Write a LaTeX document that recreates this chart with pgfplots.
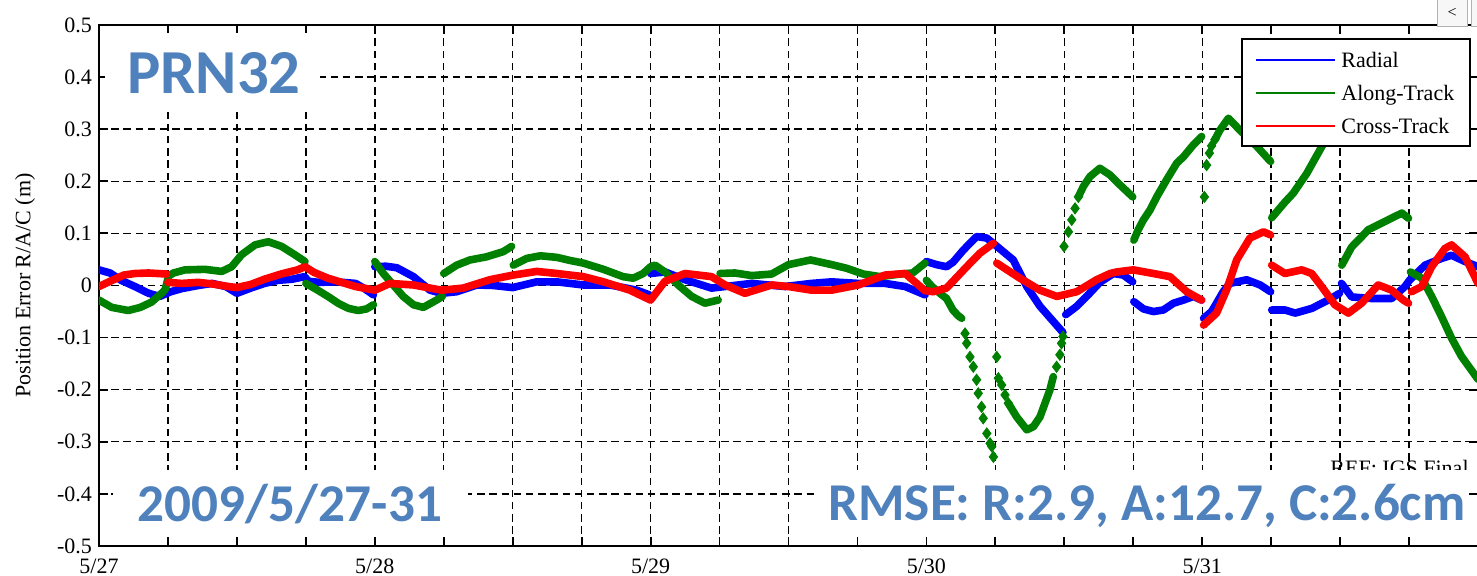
\documentclass[border=0pt]{standalone}
\usepackage{fontspec}
\setmainfont{Liberation Serif}
\newfontfamily\calib{Carlito}
\usepackage{pgfplots}
\pgfplotsset{compat=1.18}
\definecolor{ovl}{RGB}{79,129,189}
\definecolor{mgreen}{RGB}{0,128,0}
\begin{document}
\begin{tikzpicture}
\begin{axis}[
  name=ax, at={(0,0)}, anchor=south west,
  scale only axis, width=689.5pt, height=260.5pt,
  xmin=0, xmax=5, ymin=-0.5, ymax=0.5,
  xtick={0,0.25,0.5,0.75,1,1.25,1.5,1.75,2,2.25,2.5,2.75,3,3.25,3.5,3.75,4,4.25,4.5,4.75,5},
  xticklabels={5/27,,,,5/28,,,,5/29,,,,5/30,,,,5/31,,,,},
  ytick={-0.5,-0.4,-0.3,-0.2,-0.1,0,0.1,0.2,0.3,0.4,0.5},
  /pgf/number format/assume math mode=true,
  yticklabel style={/pgf/number format/fixed, /pgf/number format/precision=1},
  xticklabel style={yshift=-3pt},
  tick label style={font=\fontsize{11}{13}\selectfont},
  grid=major,
  major grid style={black, line width=0.7pt, dash pattern=on 3.7pt off 2.4pt},
  axis line style={line width=1pt},
  major tick length=4.5pt,
  every tick/.style={black, line width=0.9pt},
  tick align=inside,
  unbounded coords=jump,
]
% Radial
\addplot[blue, line width=3.8pt, line join=round, line cap=round] coordinates {
(0,0.030)(0.04,0.024)(0.08,0.010)(0.13,-0.002)(0.18,-0.015)(0.22,-0.021)(0.26,-0.012)(0.30,-0.006)(0.36,0.000)(0.41,0.004)(0.46,-0.002)(0.50,-0.015)(0.55,-0.005)(0.60,0.004)(0.65,0.010)(0.70,0.012)(0.745,0.017)(0.76,0.008)(0.80,0.006)(0.86,0.007)(0.93,0.004)(0.96,-0.005)(0.995,-0.018)
(0.997,nan)
(1.0,0.036)(1.04,0.037)(1.08,0.034)(1.14,0.017)(1.20,-0.009)(1.242,-0.015)(1.297,-0.012)(1.37,0.001)(1.43,0.000)(1.50,-0.004)(1.587,0.007)(1.66,0.007)(1.756,0.001)(1.853,0.001)(1.95,-0.009)(1.995,-0.018)
(1.997,nan)
(2.0,0.023)(2.052,0.026)(2.125,0.011)(2.221,-0.005)(2.27,-0.002)(2.366,0.004)(2.487,-0.002)(2.584,0.004)(2.656,0.007)(2.753,0.004)(2.85,0.004)(2.923,-0.002)(2.995,-0.018)
(2.997,nan)
(3.0,0.046)(3.037,0.040)(3.073,0.036)(3.097,0.045)(3.134,0.068)(3.182,0.094)(3.219,0.091)(3.249,0.078)(3.315,0.049)(3.364,-0.002)(3.412,-0.040)(3.495,-0.090)
(3.5,nan)
(3.505,-0.056)(3.545,-0.040)(3.581,-0.021)(3.629,0.006)(3.678,0.023)(3.714,0.020)(3.748,0.007)
(3.75,nan)
(3.752,-0.031)(3.787,-0.045)(3.823,-0.050)(3.859,-0.047)(3.896,-0.034)(3.932,-0.028)(3.968,-0.021)(3.998,-0.028)
(4.0,nan)
(4.005,-0.063)(4.034,-0.050)(4.052,-0.034)(4.076,-0.012)(4.10,0.004)(4.161,0.011)(4.21,0.001)(4.248,-0.012)
(4.25,nan)
(4.252,-0.047)(4.30,-0.047)(4.337,-0.053)(4.397,-0.044)(4.457,-0.028)(4.498,-0.015)
(4.5,nan)
(4.505,0.004)(4.542,-0.022)(4.614,-0.025)(4.687,-0.025)(4.735,-0.002)(4.753,0.011)(4.808,0.039)(4.868,0.052)(4.904,0.058)(4.953,0.046)(5.0,0.036)
};
% Along-Track (lines)
\addplot[mgreen, line width=3.8pt, line join=round, line cap=round] coordinates {
(0,-0.028)(0.046,-0.042)(0.106,-0.048)(0.15,-0.042)(0.19,-0.032)(0.227,-0.015)(0.24,-0.008)(0.252,0.018)(0.27,0.024)(0.312,0.030)(0.384,0.031)(0.445,0.027)(0.481,0.036)(0.517,0.059)(0.566,0.078)(0.614,0.084)(0.662,0.075)(0.71,0.059)(0.747,0.046)
(0.748,nan)
(0.75,0.004)(0.79,-0.008)(0.83,-0.021)(0.87,-0.035)(0.905,-0.044)(0.94,-0.048)(0.97,-0.045)(0.995,-0.037)
(0.997,nan)
(1.0,0.046)(1.031,0.023)(1.067,0.001)(1.103,-0.021)(1.14,-0.037)(1.176,-0.042)(1.224,-0.028)(1.245,-0.021)
(1.247,nan)
(1.25,0.023)(1.297,0.039)(1.345,0.049)(1.405,0.055)(1.466,0.065)(1.496,0.075)
(1.499,nan)
(1.502,0.039)(1.551,0.052)(1.60,0.057)(1.66,0.054)(1.708,0.048)(1.756,0.043)(1.829,0.031)(1.90,0.017)(1.937,0.014)(1.973,0.023)(2.0,0.036)(2.016,0.039)(2.052,0.026)(2.10,0.001)(2.149,-0.021)(2.197,-0.034)(2.245,-0.028)
(2.248,nan)
(2.252,0.023)(2.306,0.024)(2.367,0.019)(2.439,0.022)(2.50,0.040)(2.58,0.049)(2.657,0.040)(2.711,0.033)(2.771,0.022)(2.832,0.017)(2.904,0.022)(2.95,0.024)(2.995,0.043)
(2.997,nan)
(3.0,0.010)(3.02,-0.002)(3.049,-0.015)(3.073,-0.025)(3.096,-0.047)(3.115,-0.058)(3.128,-0.063)
(3.2,nan)
(3.297,-0.226)(3.327,-0.252)(3.364,-0.277)(3.388,-0.271)(3.412,-0.252)(3.43,-0.226)(3.448,-0.200)(3.46,-0.175)
(3.5,nan)
(3.551,0.170)(3.569,0.190)(3.593,0.209)(3.629,0.225)(3.666,0.212)(3.69,0.199)(3.748,0.170)
(3.75,nan)
(3.752,0.087)(3.768,0.107)(3.787,0.126)(3.811,0.145)(3.835,0.170)(3.871,0.203)(3.908,0.235)(3.932,0.247)(3.968,0.270)(3.998,0.286)
(4.0,nan)
(4.046,0.280)(4.064,0.298)(4.095,0.321)(4.137,0.298)(4.198,0.267)(4.248,0.238)
(4.25,nan)
(4.252,0.130)(4.30,0.160)(4.33,0.177)(4.379,0.215)(4.433,0.266)(4.47,0.30)(4.497,0.33)
(4.5,nan)
(4.506,0.039)(4.542,0.074)(4.572,0.090)(4.602,0.107)(4.663,0.123)(4.724,0.139)(4.748,0.129)
(4.75,nan)
(4.755,0.026)(4.796,0.014)(4.832,-0.021)(4.868,-0.060)(4.904,-0.101)(4.94,-0.136)(4.989,-0.172)(5.0,-0.18)
};
% Along-Track (sparse markers on steep parts)
\addplot[mgreen, only marks, mark=diamond*, mark size=2.8pt] coordinates {
(3.14,-0.092)(3.146,-0.111)(3.158,-0.137)(3.17,-0.156)(3.182,-0.181)(3.188,-0.207)(3.20,-0.233)(3.206,-0.255)(3.219,-0.284)(3.231,-0.303)(3.237,-0.309)(3.243,-0.329)
(3.255,-0.137)(3.261,-0.178)(3.273,-0.191)(3.285,-0.210)(3.297,-0.226)
(3.472,-0.156)(3.484,-0.133)(3.49,-0.111)(3.495,-0.098)
(3.499,0.075)(3.515,0.103)(3.527,0.126)(3.539,0.148)(3.551,0.170)
(4.008,0.170)(4.016,0.231)(4.026,0.254)(4.034,0.268)(4.046,0.280)
};
% Cross-Track
\addplot[red, line width=3.8pt, line join=round, line cap=round] coordinates {
(0,-0.002)(0.04,0.008)(0.09,0.020)(0.13,0.023)(0.18,0.024)(0.245,0.022)
(0.247,nan)
(0.25,0.006)(0.30,0.004)(0.36,0.006)(0.41,0.003)(0.47,-0.002)(0.50,-0.004)(0.55,0.002)(0.60,0.012)(0.66,0.022)(0.72,0.030)(0.747,0.036)(0.78,0.025)(0.83,0.014)(0.88,0.006)(0.93,-0.002)(1.0,-0.009)(1.055,0.004)(1.14,0.001)(1.242,-0.009)(1.32,-0.005)(1.417,0.011)(1.502,0.020)(1.587,0.027)(1.66,0.023)(1.756,0.017)(1.829,0.007)(1.925,-0.009)(2.0,-0.028)(2.052,0.008)(2.125,0.023)(2.221,0.017)(2.27,0.001)(2.342,-0.015)(2.439,0.001)(2.5,-0.002)(2.584,-0.009)(2.656,-0.009)(2.753,0.001)(2.85,0.020)(2.923,0.023)(2.995,-0.010)(3.025,-0.012)(3.073,-0.005)(3.146,0.036)(3.194,0.062)(3.243,0.081)
(3.25,nan)
(3.255,0.043)(3.339,0.014)(3.412,-0.009)(3.473,-0.021)(3.545,-0.012)(3.617,0.011)(3.666,0.023)(3.69,0.026)(3.75,0.030)(3.823,0.023)(3.883,0.017)(3.944,-0.012)(3.998,-0.028)
(4.0,nan)
(4.005,-0.076)(4.052,-0.053)(4.088,-0.009)(4.125,0.049)(4.173,0.091)(4.222,0.103)(4.248,0.097)
(4.25,nan)
(4.252,0.039)(4.30,0.023)(4.361,0.030)(4.397,0.023)(4.433,-0.002)(4.481,-0.037)(4.53,-0.053)(4.578,-0.034)(4.638,0.001)(4.687,-0.009)(4.729,-0.028)(4.748,-0.034)
(4.75,nan)
(4.759,-0.012)(4.796,-0.002)(4.832,0.036)(4.88,0.071)(4.904,0.078)(4.953,0.055)(5.0,0.004)
};
\end{axis}
\begin{scope}[shift={(ax.south west)}]
  % legend
  \draw[black, fill=white, line width=0.8pt] (571.5pt,200pt) rectangle (685.5pt,253.5pt);
  \draw[blue, line width=0.8pt] (578.5pt,243pt) -- (618pt,243pt);
  \draw[mgreen, line width=0.8pt] (578.5pt,226.5pt) -- (618pt,226.5pt);
  \draw[red, line width=0.8pt] (578.5pt,210pt) -- (618pt,210pt);
  \node[anchor=base west, inner sep=0pt, font=\fontsize{11}{13}\selectfont] at (621pt,239.3pt) {Radial};
  \node[anchor=base west, inner sep=0pt, font=\fontsize{11}{13}\selectfont] at (621pt,222.8pt) {Along-Track};
  \node[anchor=base west, inner sep=0pt, font=\fontsize{11}{13}\selectfont] at (621pt,206.3pt) {Cross-Track};
  % overlays
  \node[anchor=base east, inner sep=0pt, font=\fontsize{11}{13}\selectfont] at (685pt,35pt) {REF: IGS Final};
  \fill[white] (3pt,217pt) rectangle (110.5pt,256.5pt);
  \fill[white] (7pt,4.6pt) rectangle (184.5pt,38pt);
  \fill[white] (358pt,4.6pt) rectangle (685pt,38pt);
  \node[anchor=base west, inner sep=0pt, text=ovl, font=\calib\bfseries\fontsize{31.3}{33}\selectfont] at (14pt,226.4pt) {PRN32};
  \node[anchor=base west, inner sep=0pt, text=ovl, font=\calib\bfseries\fontsize{26.6}{29}\selectfont] at (19pt,12.2pt) {2009/5/27-31};
  \node[anchor=base west, inner sep=0pt, text=ovl, font=\calib\bfseries\fontsize{26.6}{29}\selectfont] at (364.5pt,12.6pt) {RMSE: R:2.9, A:12.7, C:2.6cm};
  \node[rotate=90, inner sep=0pt, font=\fontsize{11}{13}\selectfont] at (-37pt,130.25pt) {Position Error R/A/C (m)};
  \draw[gray!60, fill=gray!6, line width=0.5pt] (669pt,259.5pt) rectangle (684pt,274pt);
  \node[font=\fontsize{8}{9}\selectfont] at (676.5pt,266.5pt) {<};
  \draw[gray!60, fill=gray!6, line width=0.5pt] (686pt,259.5pt) rectangle (700pt,274pt);
  \pgfresetboundingbox
  \path[use as bounding box] (-49.5pt,-15pt) rectangle (689pt,273pt);
\end{scope}
\end{tikzpicture}
\end{document}
